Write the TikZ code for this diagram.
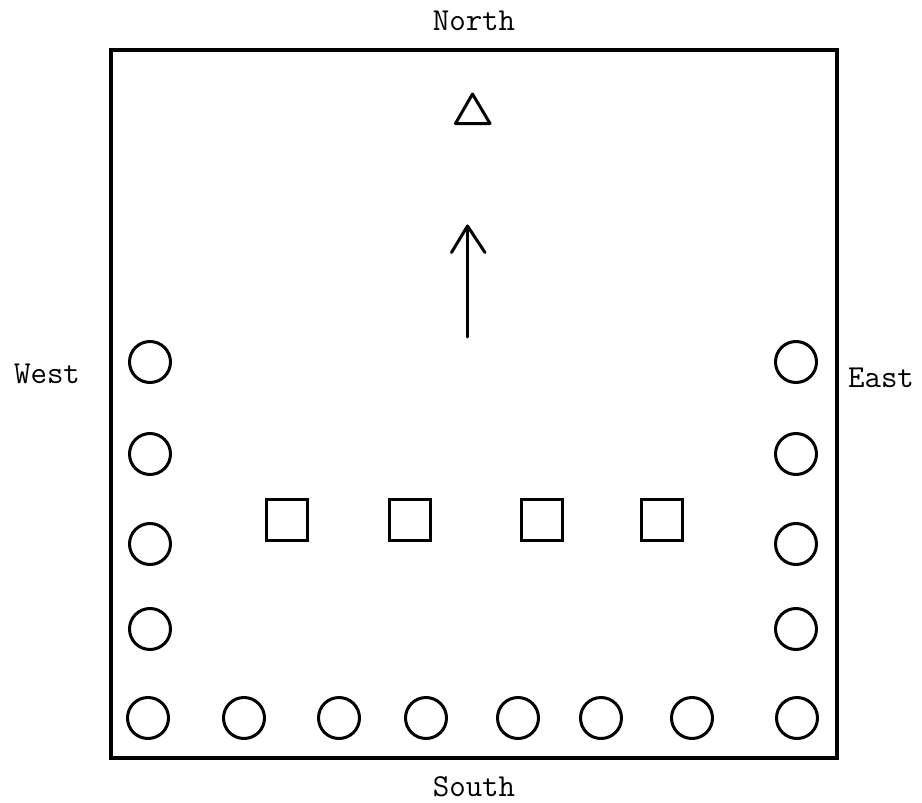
\documentclass[tikz,border=0pt]{standalone}
\usepackage{fontspec}
\setmonofont{Latin Modern Mono}
\usetikzlibrary{shapes.geometric}
\begin{document}
\begin{tikzpicture}[x=0.5pt,y=-0.5pt,
  frame/.style={line width=1.75pt},
  post/.style={circle,draw,line width=1.5pt,minimum size=20.5pt,inner sep=0pt},
  block/.style={rectangle,draw,line width=1.3pt,minimum size=20.5pt,inner sep=0pt},
  label/.style={font=\ttfamily\fontsize{16}{18}\selectfont,inner sep=0pt},
  pointer/.style={line width=1.5pt,line cap=round,line join=round}]
\useasboundingbox (0,0) rectangle (922,803);
\draw[frame] (111,50) rectangle (837,758);
\node[label] (north) at (474,21) {North};
\node[label] (south) at (474,787) {South};
\node[label] (west) at (47,374) {West};
\node[label] (east) at (881,378) {East};
% left column
\node[post] (w1) at (150,362) {};
\node[post] (w2) at (150,454) {};
\node[post] (w3) at (150,544) {};
\node[post] (w4) at (150,629) {};
% right column
\node[post] (e1) at (796,362) {};
\node[post] (e2) at (796,454) {};
\node[post] (e3) at (796,544) {};
\node[post] (e4) at (796,629) {};
% bottom row
\node[post] (s1) at (148,718) {};
\node[post] (s2) at (244,718) {};
\node[post] (s3) at (339,718) {};
\node[post] (s4) at (426,718) {};
\node[post] (s5) at (518,718) {};
\node[post] (s6) at (601,718) {};
\node[post] (s7) at (692,718) {};
\node[post] (s8) at (797,718) {};
% squares
\node[block] (b1) at (287,520) {};
\node[block] (b2) at (410,520) {};
\node[block] (b3) at (542,520) {};
\node[block] (b4) at (662,520) {};
% triangle
\coordinate (ta) at (472.5,94);
\coordinate (tl) at (455.5,123.5);
\coordinate (tr) at (490,123.5);
\draw[pointer] (ta) -- (tl) -- (tr) -- cycle;
% arrow
\coordinate (atip) at (467.5,226);
\coordinate (abot) at (467.5,337);
\coordinate (al) at (451.5,252.5);
\coordinate (ar) at (485,252.5);
\draw[pointer] (abot) -- (atip);
\draw[pointer] (al) -- (atip) -- (ar);
\end{tikzpicture}
\end{document}
